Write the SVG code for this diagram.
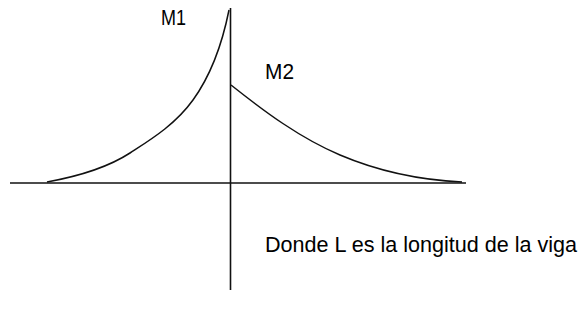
<svg xmlns="http://www.w3.org/2000/svg" width="582" height="321" viewBox="0 0 582 321">
<style>
.ln{fill:none;stroke:#111;stroke-width:1.6;stroke-linecap:butt}
.cv{fill:none;stroke:#111;stroke-width:1.5}
.t{font-family:"Liberation Sans",Arial,sans-serif;font-size:21.5px;fill:#000}
</style>
<rect width="582" height="321" fill="#fff"/>
<g id="connectors">
<line class="ln" x1="10" y1="183" x2="466" y2="183"/>
<line class="ln" x1="230.5" y1="8" x2="230.5" y2="290"/>
<path class="cv" d="M47,182 C80,176 110,166 130,153 S175,125 193,100 S222,45 229,10"/>
<path class="cv" d="M231,85 C265,112 300,138 340,155 S420,180 462,182"/>
</g>
<g id="M1"><text class="t" x="161" y="25" textLength="25" lengthAdjust="spacingAndGlyphs">M1</text></g>
<g id="M2"><text class="t" x="265" y="79" textLength="29" lengthAdjust="spacingAndGlyphs">M2</text></g>
<g id="note"><text class="t" x="265" y="252" textLength="312" lengthAdjust="spacingAndGlyphs">Donde L es la longitud de la viga</text></g>
</svg>
